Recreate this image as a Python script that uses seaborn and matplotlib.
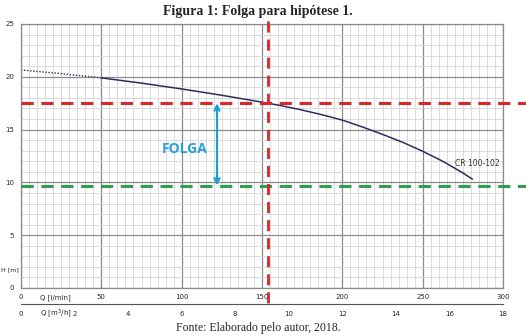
import numpy as np
import pandas as pd
import matplotlib
matplotlib.use("Agg")
import matplotlib.pyplot as plt
import seaborn as sns
from matplotlib.ticker import MultipleLocator

# pump curve CR 100-102
q_dotted = [0, 25, 50]
h_dotted = [20.65, 20.3, 19.9]
q_curve = [50, 75, 100, 125, 150, 162.5, 175, 187.5, 200, 212.5, 225, 237.5,
           250, 262.5, 275, 281]
h_curve = [19.9, 19.4, 18.85, 18.25, 17.6, 17.25, 16.85, 16.4, 15.9, 15.25,
           14.55, 13.8, 12.95, 12.0, 10.9, 10.3]

h_red = 17.5     # operating head
h_green = 9.7    # required head
q_red = 154      # operating flow
q_arrow = 122

q_ticks = [0, 50, 100, 150, 200, 250, 300]
h_ticks = [0, 5, 10, 15, 20, 25]
m3h_ticks = list(range(0, 19))

sns.set_style("white")
plt.rcParams['font.family'] = ['DejaVu Sans']

fig = plt.figure(figsize=(5.26, 3.35), dpi=100)
ax = fig.add_axes([21 / 526, 47 / 335, 482 / 526, 264 / 335])

df = pd.DataFrame({'Q': q_curve, 'H': h_curve})
sns.lineplot(data=df, x='Q', y='H', ax=ax, color='#2b2d5e', lw=1.1)
ax.plot(q_dotted, h_dotted, color='#2b2d5e', lw=1.0, ls=(0, (1, 1.2)))

ax.set_xlim(0, 300)
ax.set_ylim(0, 25)
ax.set_xticks(q_ticks)
ax.set_yticks(h_ticks)
ax.xaxis.set_minor_locator(MultipleLocator(5))
ax.yaxis.set_minor_locator(MultipleLocator(1))
ax.grid(which='major', color='#8a8a8a', lw=0.9)
ax.grid(which='minor', color='#d4d4d4', lw=0.6)
ax.set_axisbelow(True)
for s in ax.spines.values():
    s.set_color('#8a8a8a')
    s.set_linewidth(0.9)
ax.tick_params(axis='both', which='major', labelsize=5, length=3, width=0.8,
               color='#555555', pad=2)
ax.tick_params(axis='both', which='minor', length=0)
ax.tick_params(axis='x', length=0, pad=4)
ax.set_xlabel('')
ax.set_ylabel('')

# dashed reference lines
ax.plot([0, 315], [h_red, h_red], color='#d9262a', lw=2.2, ls=(0, (4, 2.5)),
        clip_on=False, zorder=5)
ax.plot([0, 315], [h_green, h_green], color='#2e9e4f', lw=2.2, ls=(0, (4, 2.5)),
        clip_on=False, zorder=5)
ax.plot([q_red, q_red], [25.3, -1.6], color='#d9262a', lw=2.0, ls=(0, (4, 2.5)),
        clip_on=False, zorder=5)

# FOLGA arrow
ax.annotate('', xy=(q_arrow, h_red), xytext=(q_arrow, h_green),
            arrowprops=dict(arrowstyle='<->', color='#1f9fd0', lw=1.6,
                            mutation_scale=9, shrinkA=0, shrinkB=0), zorder=6)
ax.text(102, 13.2, 'FOLGA', color='#2aa0d0', fontsize=10, fontweight='bold',
        ha='center', va='center', family=['Open Sans', 'DejaVu Sans'])
ax.text(270, 11.8, 'CR 100-102', fontsize=5.5, color='#333333', ha='left', va='center')

ax.text(12, -0.9, 'Q [l/min]', fontsize=5, ha='left', va='center', clip_on=False)
fig.text(1 / 526, 1 - 270 / 335, 'H [m]', fontsize=4.5, ha='left', va='center')

# second flow axis in m3/h
ax2 = fig.add_axes([21 / 526, 31 / 335, 482 / 526, 0.001])
ax2.set_xlim(0, 18)
ax2.set_yticks([])
for k in ['left', 'right', 'top']:
    ax2.spines[k].set_visible(False)
ax2.spines['bottom'].set_color('#555555')
ax2.spines['bottom'].set_linewidth(0.8)
ax2.set_xticks(m3h_ticks)
ax2.set_xticklabels([str(t) if t % 2 == 0 else '' for t in m3h_ticks])
ax2.tick_params(axis='x', labelsize=5, length=3, width=0.8, color='#555555', pad=2)
ax2.patch.set_visible(False)
fig.text(40 / 526, 1 - 314 / 335, 'Q [m$^3$/h]', fontsize=5, ha='left', va='center')

fig.text(258 / 526, 1 - 12 / 335, 'Figura 1: Folga para hipótese 1.', fontsize=10,
         fontweight='bold', ha='center', va='center', family=['Liberation Serif'])
fig.text(258 / 526, 1 / 335, 'Fonte: Elaborado pelo autor, 2018.', fontsize=8.5,
         ha='center', va='bottom', family=['Liberation Serif'])

fig.savefig('out.png', dpi=100)
